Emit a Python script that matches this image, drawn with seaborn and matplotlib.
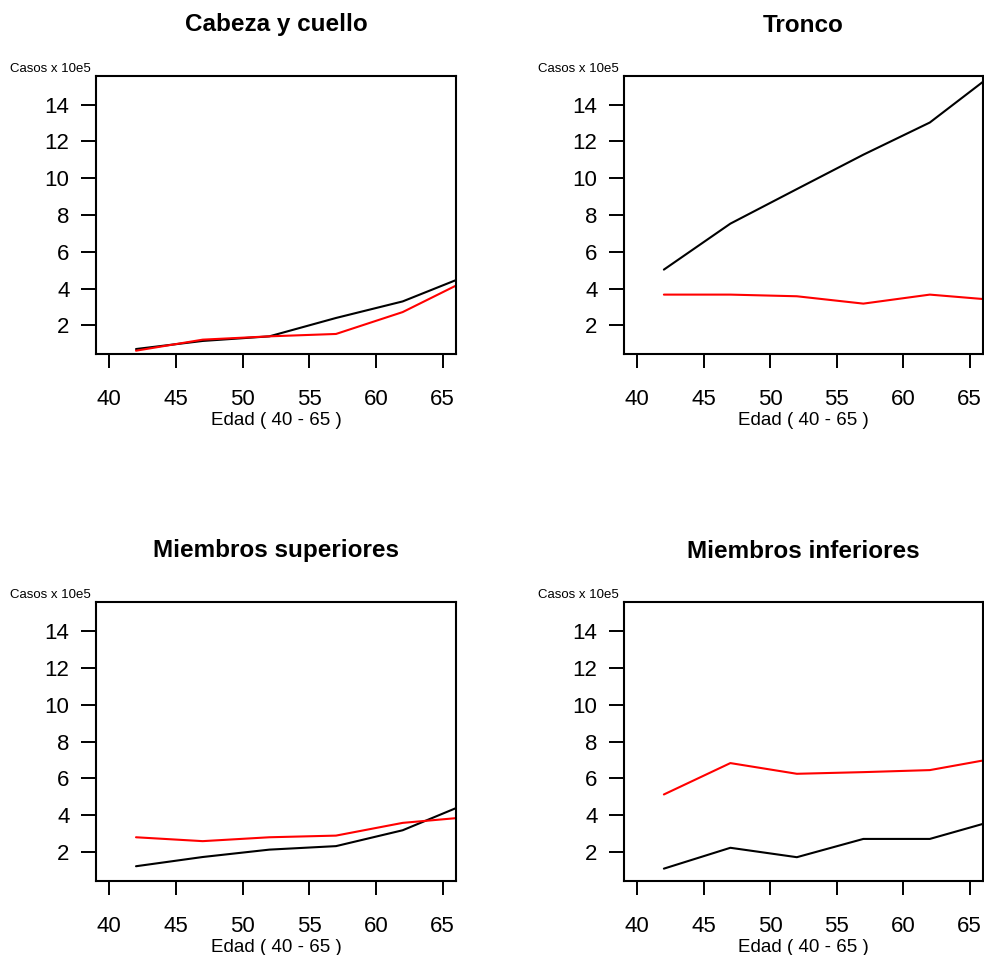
import numpy as np
import pandas as pd
import matplotlib
matplotlib.use("Agg")
import matplotlib.pyplot as plt
import seaborn as sns

# ---- data ----
edades = [42, 47, 52, 57, 62, 67]
titulos = ["Cabeza y cuello", "Tronco", "Miembros superiores", "Miembros inferiores"]
cabeza_negra = [0.71, 1.15, 1.40, 2.40, 3.30, 4.75]
cabeza_roja = [0.62, 1.22, 1.40, 1.53, 2.72, 4.52]
tronco_negra = [5.03, 7.53, 9.41, 11.28, 13.03, 15.80]
tronco_roja = [3.67, 3.67, 3.58, 3.18, 3.67, 3.37]
superiores_negra = [1.24, 1.74, 2.14, 2.33, 3.19, 4.69]
superiores_roja = [2.81, 2.60, 2.81, 2.90, 3.59, 3.91]
inferiores_negra = [1.11, 2.24, 1.73, 2.72, 2.72, 3.74]
inferiores_roja = [5.13, 6.83, 6.25, 6.34, 6.45, 7.10]
x_ticks = [40, 45, 50, 55, 60, 65]
y_ticks = [2, 4, 6, 8, 10, 12, 14]
ylabel_text = "Casos x 10e5"
xlabel_text = "Edad ( 40 - 65 )"

series = [
    (cabeza_negra, cabeza_roja),
    (tronco_negra, tronco_roja),
    (superiores_negra, superiores_roja),
    (inferiores_negra, inferiores_roja),
]

sns.set_style("white")
plt.rcParams["font.family"] = ["Liberation Sans", "DejaVu Sans"]
plt.rcParams["text.color"] = "black"

W, H = 984, 955
fig = plt.figure(figsize=(W / 100, H / 100), dpi=100)

# pixel boxes: left, right, top, bottom
boxes = [
    (96, 456, 76, 354),
    (624, 983, 76, 354),
    (96, 456, 602, 881),
    (624, 983, 602, 881),
]
title_y = [25, 25, 551, 551]

for i, (neg, roj) in enumerate(series):
    l, r, t, b = boxes[i]
    ax = fig.add_axes([l / W, 1 - b / H, (r - l) / W, (b - t) / H])
    df = pd.DataFrame({
        "edad": edades * 2,
        "casos": list(neg) + list(roj),
        "serie": ["negra"] * len(neg) + ["roja"] * len(roj),
    })
    sns.lineplot(data=df, x="edad", y="casos", hue="serie",
                 palette={"negra": "black", "roja": "red"},
                 linewidth=1.5, legend=False, ax=ax)
    ax.set_xlim(39, 66)
    ax.set_ylim(0.44, 15.56)
    ax.set_xticks(x_ticks)
    ax.set_yticks(y_ticks)
    ax.set_xlabel("")
    ax.set_ylabel("")
    for s in ax.spines.values():
        s.set_visible(True)
        s.set_color("black")
        s.set_linewidth(1.5)
    ax.tick_params(axis="x", direction="out", length=10, width=1.4,
                   pad=15, labelsize=16, bottom=True, colors="black")
    ax.tick_params(axis="y", direction="out", length=11, width=1.4,
                   pad=8, labelsize=16, left=True, colors="black")
    ax.grid(False)
    cx = (l + r) / 2
    fig.text(cx / W, 1 - title_y[i] / H, titulos[i], ha="center", va="center",
             fontsize=17.5, fontweight="bold", color="black")
    fig.text(cx / W, 1 - (b + 66) / H, xlabel_text, ha="center", va="center",
             fontsize=13.5, color="black")
    fig.text((l - 86) / W, 1 - (t - 7) / H, ylabel_text, ha="left", va="center",
             fontsize=9.5, color="black")

fig.savefig("out.png", dpi=100, facecolor="white")
